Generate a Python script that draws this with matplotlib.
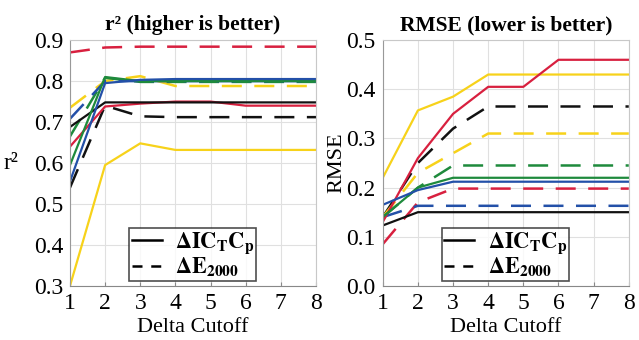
import matplotlib
matplotlib.use("Agg")
import matplotlib.pyplot as plt
from matplotlib.lines import Line2D

plt.rcParams['font.family'] = ['Liberation Serif', 'DejaVu Serif']
plt.rcParams['mathtext.fontset'] = 'stix'

cutoff = [1, 2, 3, 4, 5, 6, 7, 8]
colors = {'black': '#111111', 'red': '#d8203f', 'yellow': '#f7d21a',
          'green': '#1e8a3c', 'blue': '#2350a8'}

# r^2 values: ICtCp (solid)
r2_ictcp = {
    'yellow': [0.30, 0.595, 0.648, 0.632, 0.632, 0.632, 0.632, 0.632],
    'red':    [0.64, 0.738, 0.745, 0.750, 0.750, 0.740, 0.740, 0.740],
    'black':  [0.688, 0.748, 0.748, 0.748, 0.748, 0.748, 0.748, 0.748],
    'green':  [0.595, 0.810, 0.800, 0.800, 0.800, 0.800, 0.800, 0.800],
    'blue':   [0.555, 0.795, 0.803, 0.805, 0.805, 0.805, 0.805, 0.805],
}
# r^2 values: E2000 (dashed)
r2_e2000 = {
    'red':    [0.870, 0.882, 0.884, 0.884, 0.884, 0.884, 0.884, 0.884],
    'yellow': [0.735, 0.800, 0.812, 0.788, 0.788, 0.788, 0.788, 0.788],
    'black':  [0.540, 0.740, 0.714, 0.712, 0.712, 0.712, 0.712, 0.712],
    'green':  [0.665, 0.808, 0.798, 0.798, 0.798, 0.798, 0.798, 0.798],
    'blue':   [0.708, 0.800, 0.800, 0.800, 0.800, 0.800, 0.800, 0.800],
}
# RMSE values: ICtCp (solid)
rmse_ictcp = {
    'yellow': [0.220, 0.357, 0.385, 0.430, 0.430, 0.430, 0.430, 0.430],
    'red':    [0.130, 0.260, 0.350, 0.405, 0.405, 0.460, 0.460, 0.460],
    'green':  [0.140, 0.200, 0.220, 0.220, 0.220, 0.220, 0.220, 0.220],
    'blue':   [0.165, 0.195, 0.212, 0.212, 0.212, 0.212, 0.212, 0.212],
    'black':  [0.123, 0.150, 0.150, 0.150, 0.150, 0.150, 0.150, 0.150],
}
# RMSE values: E2000 (dashed)
rmse_e2000 = {
    'black':  [0.140, 0.250, 0.320, 0.365, 0.365, 0.365, 0.365, 0.365],
    'yellow': [0.140, 0.230, 0.270, 0.310, 0.310, 0.310, 0.310, 0.310],
    'green':  [0.140, 0.200, 0.245, 0.245, 0.245, 0.245, 0.245, 0.245],
    'red':    [0.085, 0.170, 0.198, 0.198, 0.198, 0.198, 0.198, 0.198],
    'blue':   [0.140, 0.163, 0.163, 0.163, 0.163, 0.163, 0.163, 0.163],
}

fig = plt.figure(figsize=(6.39, 3.40), dpi=100)
ax1 = fig.add_axes([0.1095, 0.159, 0.385, 0.723])
ax2 = fig.add_axes([0.599, 0.159, 0.385, 0.723])

dash = (8, 5)

def draw(ax, solid, dashed):
    for k, v in dashed.items():
        ax.plot(cutoff, v, color=colors[k], lw=1.8, linestyle=(0, dash))
    for k, v in solid.items():
        ax.plot(cutoff, v, color=colors[k], lw=1.6)
    ax.set_xlim(1, 8)
    ax.set_xticks(cutoff)
    ax.grid(True, color='#e0e0e0', lw=0.8)
    ax.set_axisbelow(True)
    for s in ax.spines.values():
        s.set_color('#c8c8c8')
        s.set_linewidth(0.8)
    ax.spines['bottom'].set_color('#888888')
    ax.spines['left'].set_color('#999999')
    ax.tick_params(labelsize=17, direction='in', color='#888888')
    ax.tick_params(axis='x', pad=5, length=3)
    ax.tick_params(axis='y', pad=5, length=0)
    ax.set_xlabel('Delta Cutoff', fontsize=16, labelpad=3)
    handles = [Line2D([], [], color='black', lw=1.8),
               Line2D([], [], color='black', lw=1.8, linestyle=(0, (4, 3.5)))]
    labels = [r'$\mathbf{\Delta IC_{T}C_{p}}$', r'$\mathbf{\Delta E_{2000}}$']
    leg = ax.legend(handles, labels, loc='lower center', fontsize=16,
                    frameon=True, fancybox=False, edgecolor='#222222',
                    handlelength=1.35, handletextpad=0.6, borderaxespad=0.2,
                    labelspacing=0.0, borderpad=0.1)
    leg.get_frame().set_linewidth(1.2)

draw(ax1, r2_ictcp, r2_e2000)
ax1.set_ylim(0.3, 0.9)
ax1.set_yticks([0.3, 0.4, 0.5, 0.6, 0.7, 0.8, 0.9])
ax1.set_yticklabels(['0.3', '0.4', '0.5', '0.6', '0.7', '0.8', '0.9'])
ax1.set_ylabel('r²', fontsize=17, rotation=0, va='center', ha='center')
ax1.yaxis.set_label_coords(-0.24, 0.5)
ax1.set_title('r² (higher is better)', fontsize=15.5, fontweight='bold', pad=7)

draw(ax2, rmse_ictcp, rmse_e2000)
ax2.set_ylim(0.0, 0.5)
ax2.set_yticks([0.0, 0.1, 0.2, 0.3, 0.4, 0.5])
ax2.set_yticklabels(['0.0', '0.1', '0.2', '0.3', '0.4', '0.5'])
ax2.set_ylabel('RMSE', fontsize=16, labelpad=0)
ax2.set_title('RMSE (lower is better)', fontsize=15.5, fontweight='bold', pad=7)

fig.savefig('out.png', dpi=100, facecolor='white')
